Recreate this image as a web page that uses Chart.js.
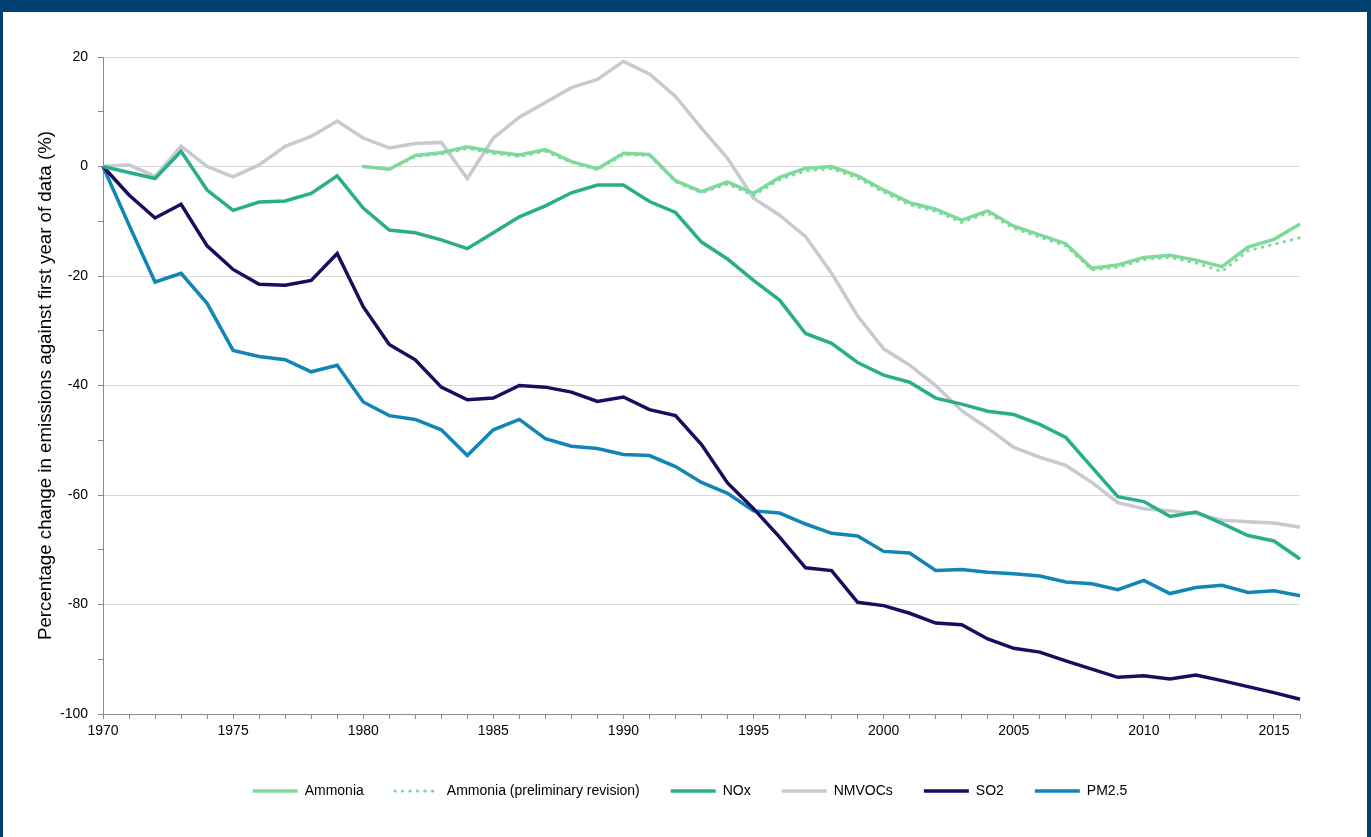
<!DOCTYPE html>
<html>
<head>
<meta charset="utf-8">
<script src="https://cdn.jsdelivr.net/npm/chart.js@4.4.1/dist/chart.umd.min.js"></script>
<style>
    body { margin: 0; background: #fff; }
    .frame {
        position: absolute; left: 0; top: 0;
        width: 1371px; height: 837px;
        box-sizing: border-box;
        border-top: 12px solid #00416F;
        border-left: 3px solid #00416F;
        border-right: 4px solid #00416F;
    }
    .frame canvas { display: block; }
</style>
</head>
<body>
<div class="frame">
    <canvas id="emissionsChart" width="1364" height="825"></canvas>
</div>
<script>
// DATA ################################################################
var years = [];
for (var y = 1970; y <= 2016; y++) years.push(String(y));

// ammonia only starts in 1980
var ammonia = [null, null, null, null, null, null, null, null, null, null,
    0, -0.5, 2.0, 2.5, 3.6, 2.7, 2.1, 3.1, 0.9, -0.4,
    2.4, 2.2, -2.6, -4.6, -2.8, -4.9, -2.0, -0.3, 0, -1.7,
    -4.3, -6.6, -7.8, -9.8, -8.1, -10.9, -12.5, -14.1, -18.6, -18.0,
    -16.6, -16.2, -17.1, -18.3, -14.7, -13.3, -10.5];

var ammoniaRevised = [null, null, null, null, null, null, null, null, null, null,
    0, -0.5, 1.8, 2.3, 3.3, 2.4, 1.8, 2.8, 0.7, -0.6,
    2.2, 2.0, -2.8, -4.8, -3.2, -5.3, -2.4, -0.8, -0.4, -2.1,
    -4.7, -7.0, -8.2, -10.2, -8.5, -11.3, -12.9, -14.5, -18.9, -18.4,
    -17.0, -16.6, -17.6, -19.2, -15.4, -14.2, -13.0];

var nox = [0, -1.1, -2.2, 2.8, -4.3, -8.0, -6.5, -6.3, -4.9, -1.7,
    -7.6, -11.6, -12.1, -13.4, -15.0, -12.1, -9.2, -7.2, -4.8, -3.4,
    -3.4, -6.4, -8.4, -13.8, -16.9, -20.8, -24.4, -30.5, -32.3, -35.8,
    -38.1, -39.4, -42.3, -43.4, -44.7, -45.3, -47.1, -49.5, -54.9, -60.3,
    -61.2, -63.9, -63.1, -65.2, -67.4, -68.4, -71.7];

var nmvocs = [0, 0.3, -1.8, 3.7, 0, -1.9, 0.3, 3.7, 5.5, 8.3,
    5.2, 3.4, 4.2, 4.4, -2.2, 5.2, 9.0, 11.7, 14.4, 15.9,
    19.2, 16.9, 12.8, 7.0, 1.5, -5.8, -8.9, -12.8, -19.5, -27.3,
    -33.3, -36.3, -40.0, -44.6, -47.8, -51.3, -53.1, -54.6, -57.7, -61.4,
    -62.5, -62.9, -63.4, -64.6, -64.9, -65.1, -65.9];

var so2 = [0, -5.2, -9.4, -6.9, -14.5, -18.8, -21.5, -21.7, -20.8, -15.9,
    -25.6, -32.5, -35.3, -40.3, -42.6, -42.3, -40.0, -40.3, -41.2, -42.9,
    -42.1, -44.4, -45.5, -50.8, -57.8, -62.5, -67.7, -73.3, -73.8, -79.6,
    -80.2, -81.6, -83.4, -83.7, -86.3, -88.0, -88.7, -90.3, -91.8, -93.3,
    -93.0, -93.6, -92.9, -93.9, -95.0, -96.1, -97.3];

var pm25 = [0, -10.7, -21.1, -19.5, -25.0, -33.6, -34.7, -35.3, -37.5, -36.3,
    -43.0, -45.5, -46.2, -48.1, -52.8, -48.1, -46.2, -49.7, -51.1, -51.5,
    -52.6, -52.8, -54.8, -57.7, -59.7, -62.9, -63.3, -65.3, -67.0, -67.5,
    -70.3, -70.6, -73.8, -73.6, -74.1, -74.4, -74.8, -75.9, -76.2, -77.3,
    -75.6, -78.0, -76.9, -76.5, -77.8, -77.5, -78.4];

var yTicks = [20, 0, -20, -40, -60, -80, -100];
// #####################################################################

document.addEventListener('DOMContentLoaded', function() {
    var ctx = document.getElementById('emissionsChart').getContext('2d');
    var axisGrey = '#8C8C8C';

    function line(label, data, color, dash) {
        return {
            label: label,
            data: data,
            borderColor: color,
            backgroundColor: color,
            borderWidth: dash ? 3 : 3.5,
            borderDash: dash || [],
            borderCapStyle: dash ? 'round' : 'butt',
            pointRadius: 0,
            tension: 0,
            fill: false
        };
    }

    new Chart(ctx, {
        type: 'line',
        data: {
            labels: years,
            datasets: [
                line('Ammonia', ammonia, '#7ED99A'),
                line('Ammonia (preliminary revision)', ammoniaRevised, '#7ED99A', [0.5, 7]),
                line('NOx', nox, '#2AAE8A'),
                line('NMVOCs', nmvocs, '#C9CAD1'),
                line('SO2', so2, '#1C0B5E'),
                line('PM2.5', pm25, '#1186B4')
            ]
        },
        options: {
            responsive: false,
            animation: false,
            layout: { padding: { left: 10, right: 0, top: 45, bottom: 29 } },
            plugins: {
                tooltip: { enabled: false },
                legend: {
                    position: 'bottom',
                    labels: {
                        usePointStyle: true,
                        pointStyle: 'line',
                        pointStyleWidth: 45,
                        padding: 31,
                        color: '#000',
                        font: { family: 'Liberation Sans', size: 14 },
                        generateLabels: function(chart) {
                            var items = Chart.defaults.plugins.legend.labels.generateLabels(chart);
                            items.forEach(function(item) {
                                var ds = chart.data.datasets[item.datasetIndex];
                                item.lineDash = ds.borderDash;
                                item.lineCap = ds.borderCapStyle;
                                item.lineWidth = ds.borderWidth;
                                item.strokeStyle = ds.borderColor;
                            });
                            return items;
                        }
                    }
                }
            },
            scales: {
                x: {
                    ticks: {
                        autoSkip: false,
                        maxRotation: 0,
                        padding: 4,
                        color: '#000',
                        font: { family: 'Liberation Sans', size: 14 },
                        callback: function(value, index) {
                            return Number(years[index]) % 5 === 0 ? years[index] : '';
                        }
                    },
                    grid: { drawOnChartArea: false, tickLength: 5, tickColor: axisGrey },
                    border: { color: axisGrey, width: 1 },
                    afterFit: function(scale) { scale.height = 39; }
                },
                y: {
                    min: -100,
                    max: 20,
                    ticks: {
                        stepSize: 10,
                        padding: 10,
                        color: '#000',
                        font: { family: 'Liberation Sans', size: 14 },
                        callback: function(value) {
                            return yTicks.indexOf(value) >= 0 ? value : '';
                        }
                    },
                    grid: {
                        color: function(c) {
                            return c.tick && yTicks.indexOf(c.tick.value) >= 0 ? '#D9D9D9' : 'rgba(0,0,0,0)';
                        },
                        tickColor: axisGrey,
                        tickLength: 5
                    },
                    border: { color: axisGrey, width: 1 },
                    title: {
                        display: true,
                        text: 'Percentage change in emissions against first year of data (%)',
                        color: '#000',
                        padding: { top: 22, bottom: 0 },
                        font: { family: 'Liberation Sans', size: 18.7 }
                    },
                    afterFit: function(scale) { scale.width = 90; }
                },
                // empty right-hand spacer so the plot stops short of the frame
                spacer: {
                    type: 'linear',
                    position: 'right',
                    ticks: { display: false },
                    grid: { display: false },
                    border: { display: false },
                    afterFit: function(scale) { scale.width = 67; }
                }
            }
        }
    });
});
</script>
</body>
</html>
